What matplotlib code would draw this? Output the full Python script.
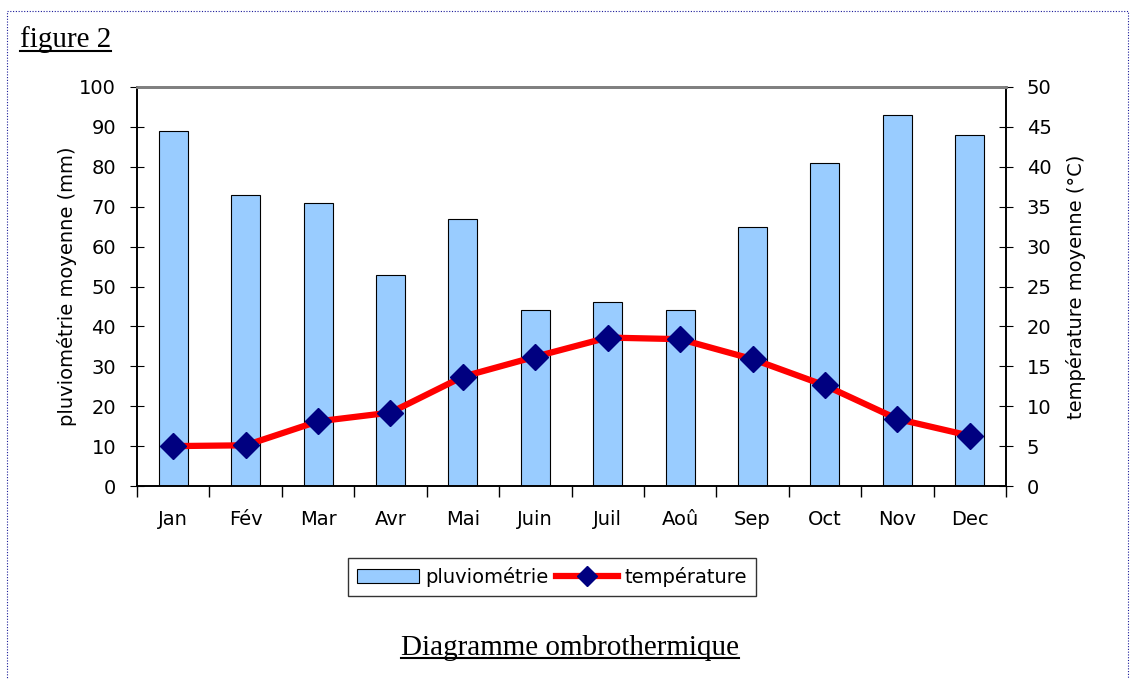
import numpy as np
import matplotlib.pyplot as plt
from matplotlib.lines import Line2D
from matplotlib.patches import Patch, Rectangle

mois = ['Jan', 'Fév', 'Mar', 'Avr', 'Mai', 'Juin', 'Juil', 'Aoû', 'Sep', 'Oct', 'Nov', 'Dec']
pluie = [89, 73, 71, 53, 67, 44, 46, 44, 65, 81, 93, 88]
temp = [5.0, 5.1, 8.1, 9.2, 13.7, 16.2, 18.6, 18.4, 15.9, 12.6, 8.4, 6.3]

plt.rcParams['font.family'] = ['DejaVu Sans']
fig = plt.figure(figsize=(11.3, 6.79), dpi=100)
ax = fig.add_axes([137 / 1130, 1 - 486 / 679, (1006 - 137) / 1130, (486 - 87) / 679])
ax2 = ax.twinx()

x = np.arange(len(mois))
ax.bar(x, pluie, width=0.4, color='#99ccff', edgecolor='black', linewidth=0.8, zorder=2)
ax.set_xlim(-0.5, len(mois) - 0.5)
ax.set_ylim(0, 100)
ax.set_yticks(np.arange(0, 101, 10))
ax.set_xticks(x)
ax.set_xticklabels(mois)
ax.set_xticks(np.arange(-0.5, len(mois), 1), minor=True)
ax.tick_params(axis='x', which='major', length=0, pad=17, labelsize=14)
ax.tick_params(axis='x', which='minor', length=8, direction='out', width=1)
ax.tick_params(axis='y', direction='inout', length=10, labelsize=14, pad=10)
ax.set_ylabel('pluviométrie moyenne (mm)', fontsize=14, labelpad=2)

ax2.plot(x, temp, color='red', linewidth=4.5, marker='D', markersize=13,
         markerfacecolor='#000080', markeredgecolor='#000080', zorder=3)
ax2.set_ylim(0, 50)
ax2.set_yticks(np.arange(0, 51, 5))
ax2.tick_params(axis='y', direction='inout', length=10, labelsize=14, pad=10)
ax2.set_ylabel('température moyenne (°C)', fontsize=14, rotation=90, labelpad=10)

for a in (ax, ax2):
    a.spines['top'].set_color('#808080')
    a.spines['top'].set_linewidth(2)
    a.spines['left'].set_linewidth(1.2)
    a.spines['right'].set_linewidth(1.2)
    a.spines['bottom'].set_linewidth(1.2)

handles = [Patch(facecolor='#99ccff', edgecolor='black', linewidth=0.8),
           Line2D([], [], color='red', linewidth=4.5, marker='D', markersize=10,
                  markerfacecolor='#000080', markeredgecolor='#000080')]
fig.legend(handles, ['pluviométrie', 'température'], loc='center',
           bbox_to_anchor=(552 / 1130, 1 - 577 / 679), ncol=2, fontsize=14,
           frameon=True, fancybox=False, edgecolor='black', handlelength=3.2,
           handletextpad=0.3, columnspacing=0.4, borderpad=0.45)

# bordure pointillée
fig.patches.append(Rectangle((7 / 1130, -0.01), 1121 / 1130, 1 - 11 / 679 + 0.01,
                             transform=fig.transFigure, fill=False,
                             edgecolor='#1a1a99', linestyle=(0, (1, 1.5)), linewidth=0.8))

t1 = fig.text(20 / 1130, 1 - 40 / 679, 'figure 2', family='Liberation Serif',
              fontsize=21, va='center', ha='left')
t2 = fig.text(570 / 1130, 1 - 648 / 679, 'Diagramme ombrothermique',
              family='Liberation Serif', fontsize=21, va='center', ha='center')

fig.canvas.draw()
r = fig.canvas.get_renderer()
for t in (t1, t2):
    bb = t.get_window_extent(r).transformed(fig.transFigure.inverted())
    y = bb.y0 + 0.1 * bb.height
    fig.add_artist(Line2D([bb.x0, bb.x1], [y, y], color='black', linewidth=1.5,
                          transform=fig.transFigure))

fig.savefig('out.png', dpi=100)
